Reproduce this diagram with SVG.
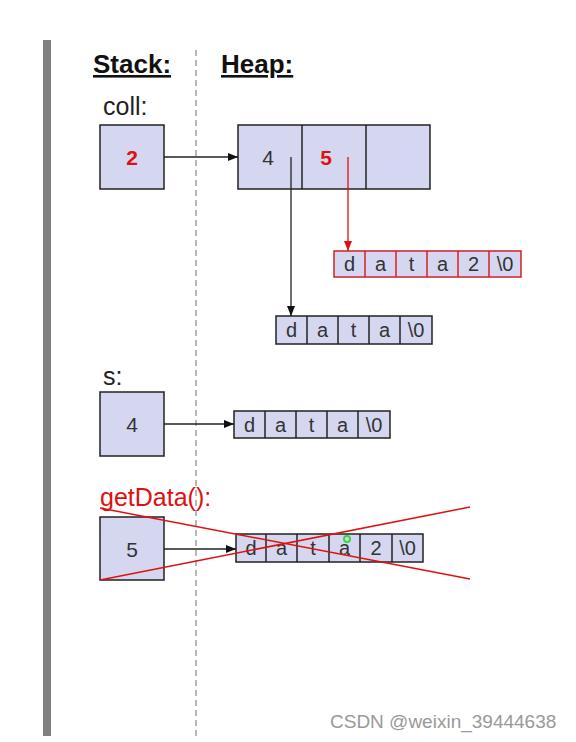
<svg xmlns="http://www.w3.org/2000/svg" width="576" height="742" viewBox="0 0 576 742">
<style>
  .box { fill: #d5d7f1; stroke: #222; stroke-width: 1.5; }
  .rbox { fill: #d5d7f1; stroke: #d42020; stroke-width: 1.5; }
  .cell { font-family: "Liberation Sans", Arial, sans-serif; font-size: 20px; fill: #333; text-anchor: middle; }
  .val { font-family: "Liberation Sans", Arial, sans-serif; font-size: 21px; fill: #333; text-anchor: middle; }
  .rval { font-family: "Liberation Sans", Arial, sans-serif; font-size: 21px; font-weight: bold; fill: #e01010; text-anchor: middle; }
  .lbl { font-family: "Liberation Sans", Arial, sans-serif; font-size: 25px; fill: #222; }
  .hdr { font-family: "Liberation Sans", Arial, sans-serif; font-size: 26px; font-weight: bold; fill: #111; text-decoration: underline; }
  .conn { stroke: #222; stroke-width: 1.3; fill: none; }
  .rconn { stroke: #e01010; stroke-width: 1.3; fill: none; }
</style>
<defs>
  <marker id="ah" markerWidth="10" markerHeight="8" refX="10" refY="4" orient="auto" markerUnits="userSpaceOnUse">
    <path d="M0,0 L10,4 L0,8 Z" fill="#111"/>
  </marker>
  <marker id="rah" markerWidth="10" markerHeight="8" refX="10" refY="4" orient="auto" markerUnits="userSpaceOnUse">
    <path d="M0,0 L10,4 L0,8 Z" fill="#e01010"/>
  </marker>
</defs>
<rect width="576" height="742" fill="#fff"/>
<rect x="43" y="40" width="8" height="696" fill="#808080"/>
<line x1="196" y1="50" x2="196" y2="736" stroke="#888" stroke-width="1.2" stroke-dasharray="6 4"/>
<text class="hdr" x="93" y="73">Stack:</text>
<text class="hdr" x="221" y="73">Heap:</text>

<g id="coll">
  <text class="lbl" x="103" y="115">coll:</text>
  <rect class="box" x="100" y="125" width="64" height="64"/>
  <text class="rval" x="132" y="165">2</text>
</g>
<g id="collHeap">
  <rect class="box" x="238" y="125" width="192" height="64"/>
  <line x1="302" y1="125" x2="302" y2="189" stroke="#222" stroke-width="1.5"/>
  <line x1="366" y1="125" x2="366" y2="189" stroke="#222" stroke-width="1.5"/>
  <text class="val" x="268" y="165">4</text>
  <text class="rval" x="326" y="165">5</text>
</g>
<g id="str2">
  <rect class="rbox" x="334" y="251" width="187" height="26"/>
  <g stroke="#d42020" stroke-width="1.5">
    <line x1="365" y1="251" x2="365" y2="277"/>
    <line x1="396" y1="251" x2="396" y2="277"/>
    <line x1="427" y1="251" x2="427" y2="277"/>
    <line x1="458" y1="251" x2="458" y2="277"/>
    <line x1="489" y1="251" x2="489" y2="277"/>
  </g>
  <text class="cell" x="349.5" y="271">d</text>
  <text class="cell" x="380.5" y="271">a</text>
  <text class="cell" x="411.5" y="271">t</text>
  <text class="cell" x="442.5" y="271">a</text>
  <text class="cell" x="473.5" y="271">2</text>
  <text class="cell" x="505" y="271">\0</text>
</g>
<g id="str1">
  <rect class="box" x="276" y="316" width="156" height="28"/>
  <g stroke="#222" stroke-width="1.5">
    <line x1="307" y1="316" x2="307" y2="344"/>
    <line x1="338" y1="316" x2="338" y2="344"/>
    <line x1="369" y1="316" x2="369" y2="344"/>
    <line x1="400" y1="316" x2="400" y2="344"/>
  </g>
  <text class="cell" x="291.5" y="337">d</text>
  <text class="cell" x="322.5" y="337">a</text>
  <text class="cell" x="353.5" y="337">t</text>
  <text class="cell" x="384.5" y="337">a</text>
  <text class="cell" x="416" y="337">\0</text>
</g>

<g id="s">
  <text class="lbl" x="103" y="385">s:</text>
  <rect class="box" x="100" y="392" width="64" height="64"/>
  <text class="val" x="132" y="432">4</text>
</g>
<g id="strS">
  <rect class="box" x="234" y="411" width="156" height="27"/>
  <g stroke="#222" stroke-width="1.5">
    <line x1="265" y1="411" x2="265" y2="438"/>
    <line x1="296" y1="411" x2="296" y2="438"/>
    <line x1="327" y1="411" x2="327" y2="438"/>
    <line x1="358" y1="411" x2="358" y2="438"/>
  </g>
  <text class="cell" x="249.5" y="432">d</text>
  <text class="cell" x="280.5" y="432">a</text>
  <text class="cell" x="311.5" y="432">t</text>
  <text class="cell" x="342.5" y="432">a</text>
  <text class="cell" x="374" y="432">\0</text>
</g>

<g id="getData">
  <text class="lbl" x="100" y="506" style="fill:#e01010">getData():</text>
  <rect class="box" x="100" y="517" width="64" height="63"/>
  <text class="val" x="132" y="557">5</text>
</g>
<g id="strG">
  <rect class="box" x="236" y="534" width="187" height="28"/>
  <g stroke="#222" stroke-width="1.5">
    <line x1="266" y1="534" x2="266" y2="562"/>
    <line x1="297" y1="534" x2="297" y2="562"/>
    <line x1="329" y1="534" x2="329" y2="562"/>
    <line x1="360" y1="534" x2="360" y2="562"/>
    <line x1="392" y1="534" x2="392" y2="562"/>
  </g>
  <text class="cell" x="251" y="555">d</text>
  <text class="cell" x="281.5" y="555">a</text>
  <text class="cell" x="313" y="555">t</text>
  <text class="cell" x="344.5" y="555">a</text>
  <text class="cell" x="376" y="555">2</text>
  <text class="cell" x="407.5" y="555">\0</text>
</g>

<g id="connectors">
  <line class="conn" x1="164" y1="157" x2="238" y2="157" marker-end="url(#ah)"/>
  <line class="conn" x1="291" y1="157" x2="291" y2="316" marker-end="url(#ah)"/>
  <line class="rconn" x1="348" y1="157" x2="348" y2="251" marker-end="url(#rah)"/>
  <line class="conn" x1="164" y1="424" x2="234" y2="424" marker-end="url(#ah)"/>
  <line class="conn" x1="164" y1="549" x2="236" y2="549" marker-end="url(#ah)"/>
</g>

<g id="cross" stroke="#e01010" stroke-width="1.5">
  <line x1="100" y1="508" x2="470" y2="579"/>
  <line x1="100" y1="580" x2="470" y2="507"/>
</g>
<circle cx="347" cy="539" r="3" fill="none" stroke="#33dd33" stroke-width="2"/>

<text x="330" y="728" font-family="Liberation Sans, Arial, sans-serif" font-size="19" fill="#999">CSDN @weixin_39444638</text>
</svg>
